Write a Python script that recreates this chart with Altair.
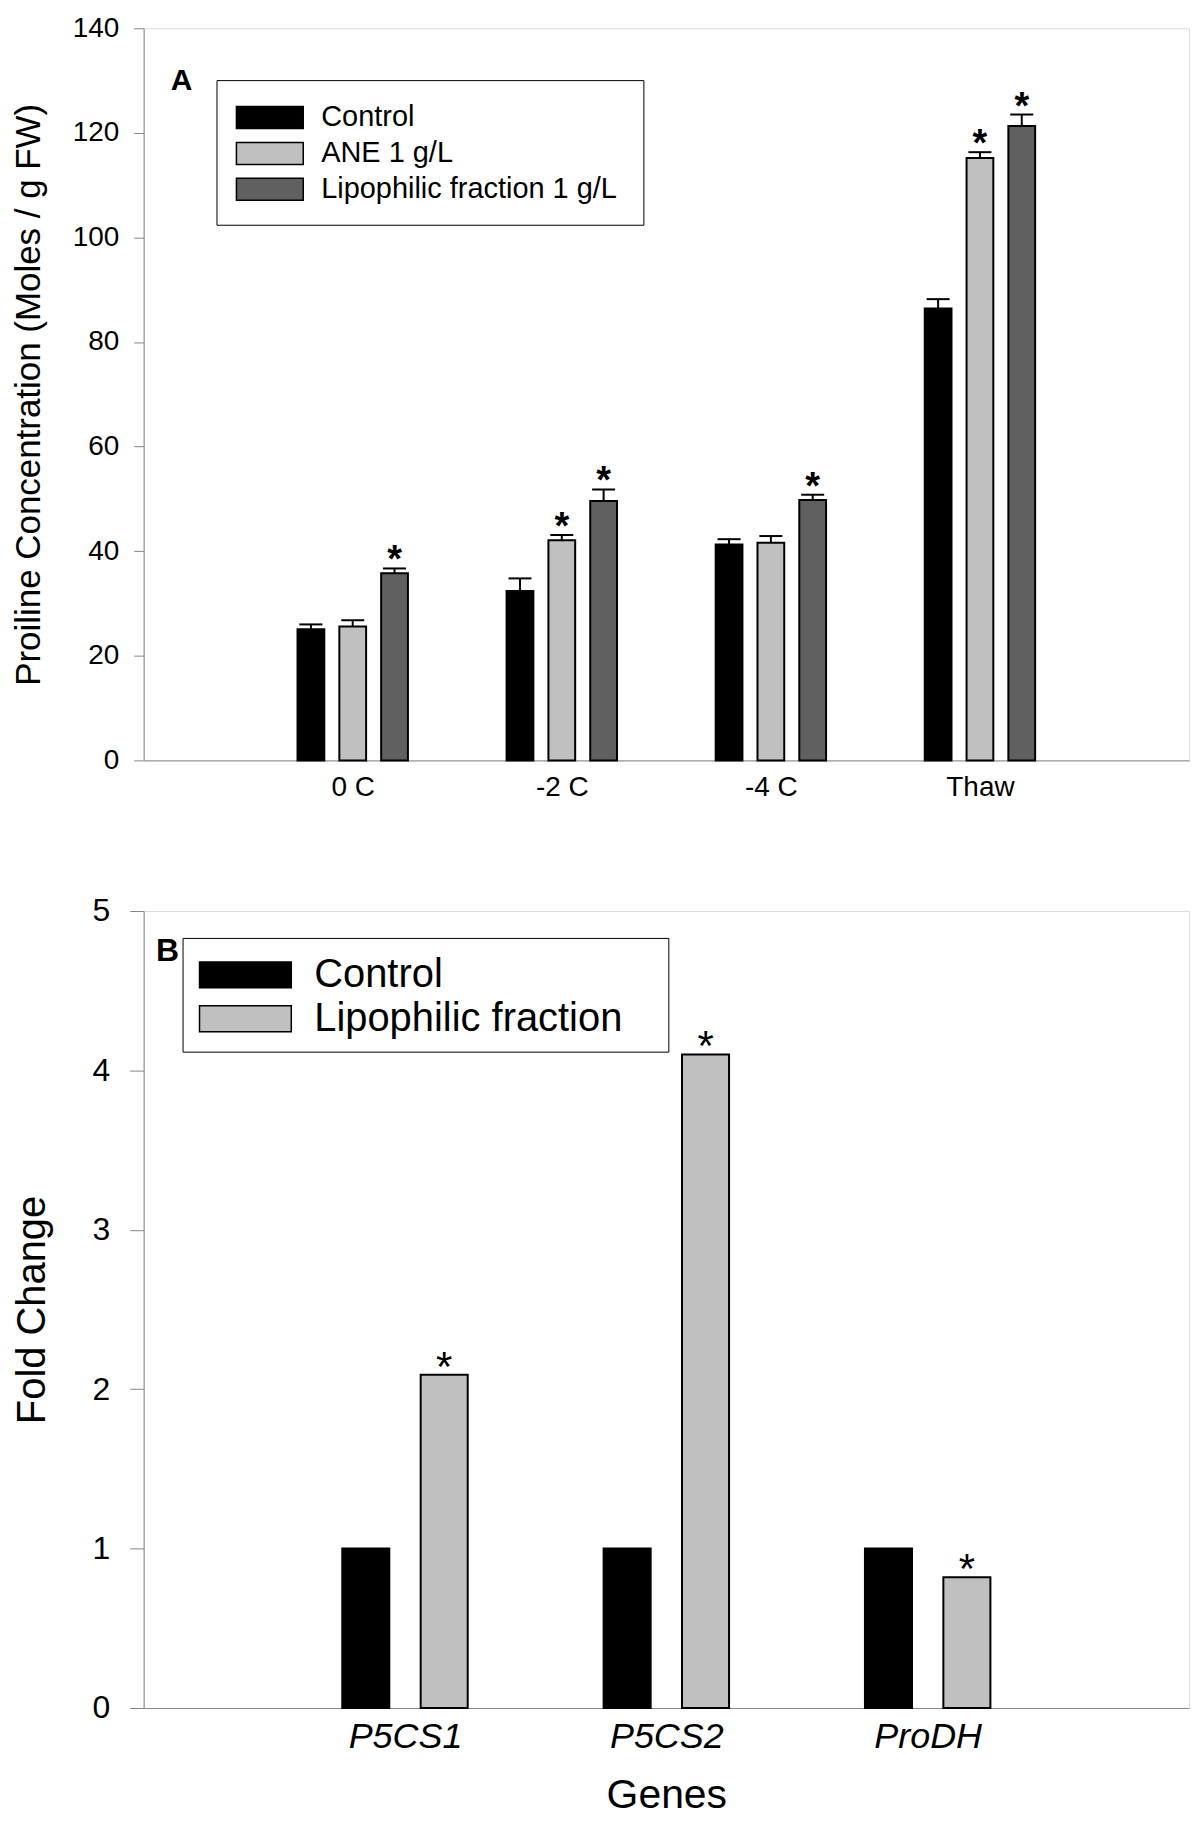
import json
import altair as alt
import pandas as pd

FONT = "Liberation Sans"

# ---------------- Panel A data ----------------
temps = ["0 C", "-2 C", "-4 C", "Thaw"]
series_a = ["Control", "ANE 1 g/L", "Lipophilic fraction 1 g/L"]
control_a = [25.1, 32.4, 41.3, 86.4]
ane_a = [25.6, 42.1, 41.6, 115.2]
lipo_a = [35.8, 49.6, 49.8, 121.3]
control_a_se = [0.9, 2.4, 1.0, 1.8]
ane_a_se = [1.2, 1.0, 1.3, 1.1]
lipo_a_se = [0.9, 2.2, 1.0, 2.2]
control_a_sig = [False, False, False, False]
ane_a_sig = [False, True, False, True]
lipo_a_sig = [True, True, True, True]
colors_a = ["#000000", "#c0c0c0", "#606060"]

# ---------------- Panel B data ----------------
genes = ["P5CS1", "P5CS2", "ProDH"]
series_b = ["Control", "Lipophilic fraction"]
control_b = [1.0, 1.0, 1.0]
lipo_b = [2.09, 4.1, 0.82]
control_b_sig = [False, False, False]
lipo_b_sig = [True, True, True]
colors_b = ["#000000", "#c0c0c0"]

rows_a = []
for s, (name, vals, ses, sigs) in enumerate(zip(
        series_a, [control_a, ane_a, lipo_a],
        [control_a_se, ane_a_se, lipo_a_se],
        [control_a_sig, ane_a_sig, lipo_a_sig])):
    for i, cat in enumerate(temps):
        rows_a.append(dict(cat=cat, idx=i + 1, series=name, s=s,
                           value=vals[i], se=ses[i], sig=sigs[i]))
df_a = pd.DataFrame(rows_a)

rows_b = []
for s, (name, vals, sigs) in enumerate(zip(
        series_b, [control_b, lipo_b], [control_b_sig, lipo_b_sig])):
    for i, g in enumerate(genes):
        rows_b.append(dict(gene=g, idx=i + 1, series=name, s=s,
                           value=vals[i], sig=sigs[i]))
df_b = pd.DataFrame(rows_b)

# ---------------- Panel A ----------------
labels_a = json.dumps([""] + temps + [""])
xa_scale = alt.Scale(domain=[0, 5], nice=False, zero=False)
ya_scale = alt.Scale(domain=[0, 140], nice=False)

base_a = alt.Chart(df_a).transform_calculate(
    pos="datum.idx + (datum.s - 1) * 0.2",
    x0="datum.idx + (datum.s - 1) * 0.2 - 0.064",
    x1="datum.idx + (datum.s - 1) * 0.2 + 0.064",
    c0="datum.idx + (datum.s - 1) * 0.2 - 0.055",
    c1="datum.idx + (datum.s - 1) * 0.2 + 0.055",
    top="datum.value + datum.se",
)

xa_axis = alt.Axis(values=[1, 2, 3, 4], labelExpr=f"{labels_a}[datum.value]",
                   title=None, ticks=False, labelPadding=13, labelFontSize=28,
                   grid=False)
ya_axis = alt.Axis(values=[0, 20, 40, 60, 80, 100, 120, 140], format="d",
                   tickSize=10, labelPadding=15, labelFontSize=28, grid=False,
                   title="Proiline Concentration (Moles / g FW)",
                   titleFontSize=35, titleFontWeight="normal", titlePadding=26)

sym_a = "M-2,-0.66L2,-0.66L2,0.66L-2,0.66Z"
bars_a = base_a.mark_bar(stroke="black", strokeWidth=2).encode(
    x=alt.X("x0:Q", scale=xa_scale, axis=xa_axis),
    x2="x1:Q",
    y=alt.Y("value:Q", scale=ya_scale, axis=ya_axis),
    y2=alt.datum(0),
    color=alt.Color("series:N", scale=alt.Scale(domain=series_a, range=colors_a),
                    legend=alt.Legend(
                        title=" ", titleOrient="right", titleFontSize=1,
                        titlePadding=6,
                        orient="none", legendX=73, legendY=52,
                        symbolType=sym_a, symbolSize=1122, symbolOffset=16,
                        symbolStrokeColor="black", symbolStrokeWidth=1.5,
                        symbolOpacity=1, labelOffset=34, labelFontSize=29,
                        labelLimit=1000,
                        labelFont=FONT, labelColor="black", padding=20,
                        rowPadding=3, strokeColor="black", fillColor="white")),
)
err_a = base_a.mark_rule(color="black", strokeWidth=2).encode(
    x=alt.X("pos:Q", scale=xa_scale), y=alt.Y("value:Q", scale=ya_scale), y2="top:Q")
cap_a = base_a.mark_rule(color="black", strokeWidth=2).encode(
    x=alt.X("c0:Q", scale=xa_scale), x2="c1:Q", y=alt.Y("top:Q", scale=ya_scale))
star_a = base_a.transform_filter("datum.sig").mark_text(
    text="*", font=FONT, fontSize=38, fontWeight="bold", baseline="alphabetic",
    dy=4, color="black").encode(
    x=alt.X("pos:Q", scale=xa_scale), y=alt.Y("top:Q", scale=ya_scale))
letter_a = alt.Chart(pd.DataFrame({"t": ["A"]})).mark_text(
    font=FONT, fontSize=30, fontWeight="bold", baseline="alphabetic",
    align="center", color="black").encode(
    text="t:N", x=alt.value(38), y=alt.value(62))

panel_a = alt.layer(bars_a, err_a, cap_a, star_a, letter_a).properties(
    width=1048, height=734)

# ---------------- Panel B ----------------
labels_b = json.dumps([""] + genes + [""])
xb_scale = alt.Scale(domain=[0, 4], nice=False, zero=False)
yb_scale = alt.Scale(domain=[0, 5], nice=False)

base_b = alt.Chart(df_b).transform_calculate(
    pos="datum.idx + (datum.s - 0.5) * 0.3",
    x0="datum.idx + (datum.s - 0.5) * 0.3 - 0.09",
    x1="datum.idx + (datum.s - 0.5) * 0.3 + 0.09",
)
xb_axis = alt.Axis(values=[1, 2, 3], labelExpr=f"{labels_b}[datum.value]",
                   title="Genes", titleFontSize=41, titleFontWeight="normal",
                   titlePadding=21, ticks=False, labelPadding=12,
                   labelFontSize=36, labelFontStyle="italic", grid=False)
yb_axis = alt.Axis(values=[0, 1, 2, 3, 4, 5], format="d", tickSize=14,
                   labelPadding=20, labelFontSize=32, grid=False,
                   title="Fold Change", titleFontSize=40,
                   titleFontWeight="normal", titlePadding=40)

sym_b = "M-2,-0.565L2,-0.565L2,0.565L-2,0.565Z"
bars_b = base_b.mark_bar(stroke="black", strokeWidth=2).encode(
    x=alt.X("x0:Q", scale=xb_scale, axis=xb_axis),
    x2="x1:Q",
    y=alt.Y("value:Q", scale=yb_scale, axis=yb_axis),
    y2=alt.datum(0),
    color=alt.Color("series:N", scale=alt.Scale(domain=series_b, range=colors_b),
                    legend=alt.Legend(
                        title=" ", titleOrient="right", titleFontSize=1,
                        titlePadding=33,
                        orient="none", legendX=39, legendY=27,
                        symbolType=sym_b, symbolSize=2116, symbolOffset=26,
                        symbolStrokeColor="black", symbolStrokeWidth=1.5,
                        symbolOpacity=1, labelOffset=45, labelFontSize=40,
                        labelLimit=1000,
                        labelFont=FONT, labelColor="black", padding=13,
                        rowPadding=0, strokeColor="black", fillColor="white")),
)
star_b = base_b.transform_filter("datum.sig").mark_text(
    text="*", font=FONT, fontSize=42, baseline="alphabetic", dy=6,
    color="black").encode(
    x=alt.X("pos:Q", scale=xb_scale), y=alt.Y("value:Q", scale=yb_scale))
letter_b = alt.Chart(pd.DataFrame({"t": ["B"]})).mark_text(
    font=FONT, fontSize=32, fontWeight="bold", baseline="alphabetic",
    align="center", color="black").encode(
    text="t:N", x=alt.value(24), y=alt.value(50))

panel_b = alt.layer(bars_b, star_b, letter_b).properties(width=1048, height=799)

chart = alt.vconcat(panel_a, panel_b, spacing=92).resolve_scale(
    color="independent", x="independent", y="independent"
).properties(
    padding={"left": 2, "top": 3, "right": 2, "bottom": 0}
).configure_view(
    stroke="black", strokeWidth=2
).configure_axis(
    domainColor="black", domainWidth=2, tickColor="black", tickWidth=2,
    labelColor="black", titleColor="black", labelFont=FONT, titleFont=FONT
).configure(background="white")

chart.save("out.html", embed_options={"renderer": "svg", "actions": False})
